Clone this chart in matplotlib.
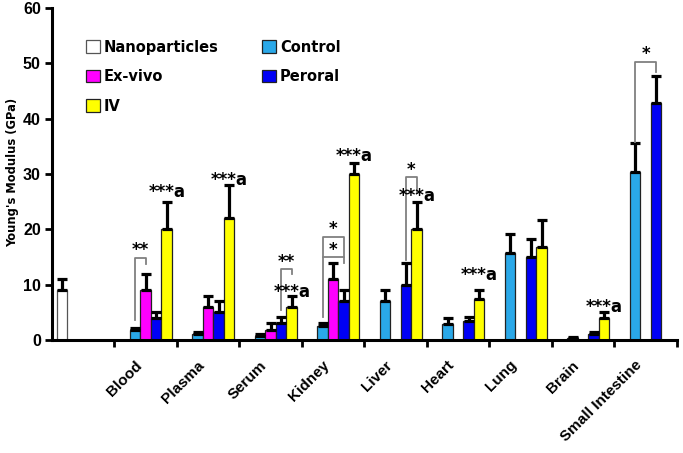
import matplotlib as mpl
mpl.use("Agg")
import matplotlib.pyplot as plt
import numpy as np
from matplotlib.transforms import ScaledTranslation

nan = np.nan
categories = ["", "Blood", "Plasma", "Serum", "Kidney", "Liver", "Heart", "Lung", "Brain", "Small Intestine"]

nano = [9.0, nan, nan, nan, nan, nan, nan, nan, nan, nan]
nano_err = [2.0, nan, nan, nan, nan, nan, nan, nan, nan, nan]
control = [nan, 1.8, 1.1, 0.8, 2.6, 7.0, 2.9, 15.7, 0.3, 30.4]
control_err = [nan, 0.3, 0.4, 0.3, 0.4, 2.0, 1.0, 3.5, 0.2, 5.2]
exvivo = [nan, 9.0, 6.0, 1.8, 11.0, nan, nan, nan, nan, nan]
exvivo_err = [nan, 3.0, 2.0, 1.3, 3.0, nan, nan, nan, nan, nan]
peroral = [nan, 4.0, 5.0, 3.0, 7.0, 10.0, 3.5, 15.0, 1.1, 42.8]
peroral_err = [nan, 1.0, 2.0, 1.1, 2.0, 4.0, 0.6, 3.2, 0.4, 5.0]
iv = [nan, 20.0, 22.0, 6.0, 30.0, 20.0, 7.5, 16.9, 4.0, nan]
iv_err = [nan, 5.0, 6.0, 2.0, 2.0, 5.0, 1.5, 4.8, 1.1, nan]

# significance brackets: category, left slot, right slot, top, left foot, right foot, text, text y
brackets = [
    (1, -1, 0, 14.9, 3.6, 13.8, "**", 15.3),
    (3, 1, 2, 12.8, 5.4, 12.0, "**", 13.2),
    (4, -1, 1, 18.7, 15.0, 15.0, "*", 19.1),
    (4, -1, 1, 15.0, 4.2, 14.0, "*", 15.4),
    (5, 1, 2, 29.4, 14.5, 26.5, "*", 29.8),
    (9, -1, 1, 50.3, 35.8, 48.5, "*", 50.7),
]
# "***a" marks above IV bars: category, y of baseline
iv_marks = [(1, 25.9), (2, 28.0), (3, 7.8), (4, 32.3), (5, 25.2), (6, 10.8), (8, 5.1)]

series = [
    ("Nanoparticles", nano, nano_err, "white", -2),
    ("Control", control, control_err, "#2aa8e8", -1),
    ("Ex-vivo", exvivo, exvivo_err, "#ff00ff", 0),
    ("Peroral", peroral, peroral_err, "#0000f5", 1),
    ("IV", iv, iv_err, "#ffff00", 2),
]

w = 0.168
fig = plt.figure(figsize=(6.83, 4.53), dpi=100)
ax = fig.add_axes([0.0761, 0.2494, 0.9151, 0.7329])

x = np.arange(len(categories))
handles = {}
for name, vals, errs, col, slot in series:
    v = np.array(vals)
    e = np.array(errs)
    m = ~np.isnan(v)
    xs = x[m] + slot * w
    ec = "#555555" if col == "white" else "#222222"
    b = ax.bar(xs, v[m], width=w, color=col, edgecolor=ec, linewidth=0.9, zorder=2)
    handles[name] = b
    ax.errorbar(xs, v[m], yerr=[np.zeros(m.sum()), e[m]], fmt="none", ecolor="black",
                elinewidth=2.3, capsize=3.5, capthick=2.3, zorder=3)

for cat, sl, sr, top, fl, fr, txt, ty in brackets:
    xl = cat + sl * w
    xr = cat + sr * w
    ax.plot([xl, xl, xr, xr], [fl, top, top, fr], color="#808080", lw=1.3, zorder=4)
    ax.text((xl + xr) / 2, ty, txt, ha="center", va="baseline", fontsize=12,
            fontweight="bold", zorder=5)

for cat, ty in iv_marks:
    ax.text(cat + 2 * w, ty, "***a", ha="center", va="baseline", fontsize=12,
            fontweight="bold", zorder=5)

ax.set_xlim(-0.5, 9.5)
ax.set_ylim(0, 60)
ax.spines["top"].set_visible(False)
ax.spines["right"].set_visible(False)
ax.spines["left"].set_linewidth(2.2)
ax.spines["bottom"].set_linewidth(2.2)

ax.set_xticks(np.arange(0.5, 9.6, 1))
ax.set_xticklabels([])
ax.set_xticks(x[1:], minor=True)
ax.set_xticklabels(categories[1:], minor=True, rotation=45, ha="right",
                   rotation_mode="anchor", fontsize=11, fontweight="bold",
                   family="Liberation Sans")
ax.tick_params(axis="x", which="major", direction="out", length=5, width=2)
ax.tick_params(axis="x", which="minor", length=0, pad=13)
for lbl in ax.get_xticklabels(minor=True):
    lbl.set_transform(lbl.get_transform() + ScaledTranslation(-8 / 72, 0, fig.dpi_scale_trans))

ax.set_yticks(np.arange(0, 61, 10))
ax.tick_params(axis="y", direction="out", length=5, width=2, pad=3)
for lbl in ax.get_yticklabels():
    lbl.set_fontsize(11.5)
    lbl.set_fontweight("bold")
    lbl.set_family("Liberation Sans")

ax.set_ylabel("Young's Modulus (GPa)", fontsize=8.3, fontweight="bold")
ax.yaxis.set_label_coords(-0.052, 0.506)

order = ["Nanoparticles", "Ex-vivo", "IV", "Control", "Peroral"]
leg = ax.legend([handles[n] for n in order], order, ncol=2, loc="upper left",
                bbox_to_anchor=(0.055, 0.905), frameon=False, borderpad=0, borderaxespad=0,
                prop={"weight": "bold", "size": 10.5}, handlelength=0.95, handleheight=0.95,
                handletextpad=0.25, labelspacing=1.0, columnspacing=3.0)

fig.savefig("out.png", dpi=100)
